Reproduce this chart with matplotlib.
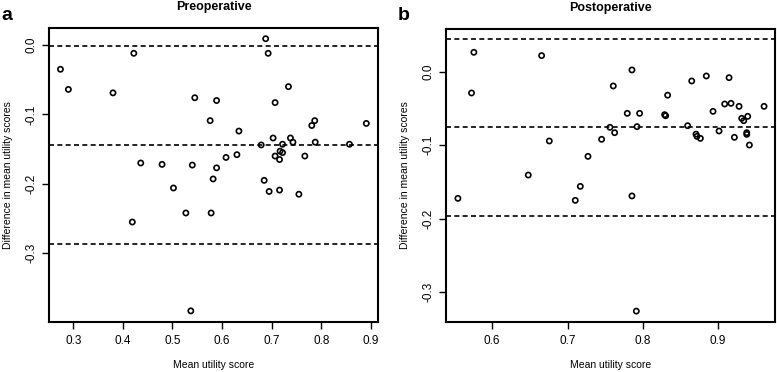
import matplotlib.pyplot as plt
import numpy as np

plt.rcParams['font.family'] = ['Liberation Sans', 'DejaVu Sans']

# panel a: preoperative
pre_mean = [0.274, 0.290, 0.380, 0.422, 0.436, 0.479, 0.545, 0.540, 0.589, 0.576,
            0.589, 0.582, 0.634, 0.608, 0.630, 0.688, 0.693, 0.734, 0.707, 0.703,
            0.679, 0.722, 0.707, 0.716, 0.717, 0.722, 0.738, 0.743, 0.685, 0.767,
            0.781, 0.787, 0.788, 0.857, 0.891, 0.502, 0.419, 0.527, 0.578, 0.695,
            0.716, 0.755, 0.537]
pre_diff = [-0.035, -0.064, -0.069, -0.012, -0.170, -0.172, -0.076, -0.173, -0.080, -0.109,
            -0.177, -0.193, -0.124, -0.162, -0.158, 0.009, -0.012, -0.060, -0.083, -0.134,
            -0.144, -0.143, -0.160, -0.165, -0.153, -0.155, -0.134, -0.140, -0.195, -0.160,
            -0.116, -0.109, -0.140, -0.143, -0.113, -0.206, -0.255, -0.242, -0.242, -0.211,
            -0.209, -0.215, -0.383]
pre_lines = [-0.001, -0.1437, -0.2872]

# panel b: postoperative
post_mean = [0.5756, 0.5725, 0.6656, 0.6758, 0.6479, 0.717, 0.7272, 0.7453, 0.7564, 0.7626,
             0.7608, 0.7794, 0.7958, 0.7923, 0.7856, 0.829, 0.8304, 0.833, 0.8596, 0.865,
             0.8707, 0.872, 0.8765, 0.8844, 0.8933, 0.9013, 0.9088, 0.9146, 0.9172, 0.9217,
             0.9279, 0.9314, 0.9341, 0.9394, 0.9381, 0.9381, 0.9416, 0.9611, 0.5544, 0.7103,
             0.7856, 0.7914]
post_diff = [0.0263, -0.029, 0.0218, -0.0943, -0.1406, -0.156, -0.1152, -0.092, -0.0757, -0.083,
             -0.0195, -0.0567, -0.0567, -0.0748, 0.0023, -0.0585, -0.060, -0.032, -0.0735, -0.0127,
             -0.085, -0.088, -0.0907, -0.0059, -0.054, -0.0807, -0.044, -0.0082, -0.0431, -0.0893,
             -0.0472, -0.0635, -0.0667, -0.0608, -0.083, -0.0853, -0.0998, -0.0472, -0.1723, -0.175,
             -0.169, -0.3256]
post_lines = [0.0444, -0.0757, -0.1963]

panels = [
    ('a', 'Preoperative', pre_mean, pre_diff, pre_lines,
     [0.3, 0.4, 0.5, 0.6, 0.7, 0.8, 0.9], [0.0, -0.1, -0.2, -0.3],
     (0.2516, 0.914), (-0.3986, 0.024), [0.0635, 0.1352, 0.4226, 0.7887]),
    ('b', 'Postoperative', post_mean, post_diff, post_lines,
     [0.6, 0.7, 0.8, 0.9], [0.0, -0.1, -0.2, -0.3],
     (0.539, 0.9755), (-0.340, 0.058), [0.5744, 0.1352, 0.4229, 0.7869]),
]

fig = plt.figure(figsize=(7.77, 3.72), dpi=100)

for letter, title, xs, ys, lines, xt, yt, xl, yl, pos in panels:
    ax = fig.add_axes(pos)
    ax.scatter(xs, ys, s=14, facecolors='none', edgecolors='black', linewidths=1.2, zorder=3)
    for v in lines:
        ax.axhline(v, color='black', linestyle=(0, (3, 2)), linewidth=1.2)
    ax.set_xlim(*xl)
    ax.set_ylim(*yl)
    ax.set_xticks(xt)
    ax.set_xticklabels([f'{v:.1f}' for v in xt])
    ax.set_yticks(yt)
    ax.set_yticklabels([f'{v:.1f}' for v in yt], rotation=90, va='center')
    ax.tick_params(direction='out', length=4.8, width=1, labelsize=8.5)
    ax.tick_params(axis='x', pad=5)
    ax.tick_params(axis='y', pad=3.5)
    for s in ax.spines.values():
        s.set_linewidth(1.5)
    ax.set_title(title, fontsize=9, fontweight='bold', pad=13)
    ax.set_xlabel('Mean utility score', fontsize=7.5, labelpad=9)
    ax.set_ylabel('Difference in mean utility scores', fontsize=7.5, labelpad=9)
    fig.text(pos[0] - 0.062, 0.946, letter, fontsize=14, fontweight='bold')

fig.savefig('out.png', dpi=100)
